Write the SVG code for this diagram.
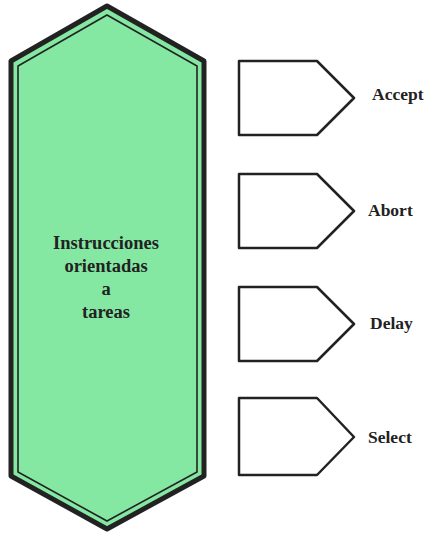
<svg xmlns="http://www.w3.org/2000/svg" width="426" height="533" viewBox="0 0 426 533">
<style>
.lbl{font-family:"Liberation Serif","Times New Roman",serif;font-weight:bold;font-size:17.5px;fill:#222}
.ctr{font-family:"Liberation Serif","Times New Roman",serif;font-weight:bold;font-size:18.5px;fill:#222;text-anchor:middle}
.tag{fill:#fff;stroke:#222;stroke-width:2.5;stroke-linejoin:round}
</style>
<rect width="426" height="533" fill="#fff"/>
<g id="main">
<path d="M107,6 L204,61 L204,476 L107,529 L11,476 L11,61 Z" fill="#84e8a2" stroke="#222" stroke-width="5" stroke-linejoin="round"/>
<path d="M107,15 L197,66 L197,472 L107,521 L18,472 L18,66 Z" fill="none" stroke="#222" stroke-width="1.6"/>
<text class="ctr" x="106" y="249">Instrucciones</text>
<text class="ctr" x="106" y="272">orientadas</text>
<text class="ctr" x="106" y="295">a</text>
<text class="ctr" x="106" y="318">tareas</text>
</g>
<g id="accept">
<path class="tag" d="M239,61 L317,61 L354,98 L317,135 L239,135 Z"/>
<text class="lbl" x="372" y="100">Accept</text>
</g>
<g id="abort">
<path class="tag" d="M239,174 L317,174 L354,211 L317,248 L239,248 Z"/>
<text class="lbl" x="368" y="216">Abort</text>
</g>
<g id="delay">
<path class="tag" d="M239,287 L317,287 L354,324 L317,361 L239,361 Z"/>
<text class="lbl" x="370" y="329">Delay</text>
</g>
<g id="select">
<path class="tag" d="M239,398 L317,398 L354,437 L317,475 L239,475 Z"/>
<text class="lbl" x="368" y="443">Select</text>
</g>
<g id="connectors"></g>
</svg>
